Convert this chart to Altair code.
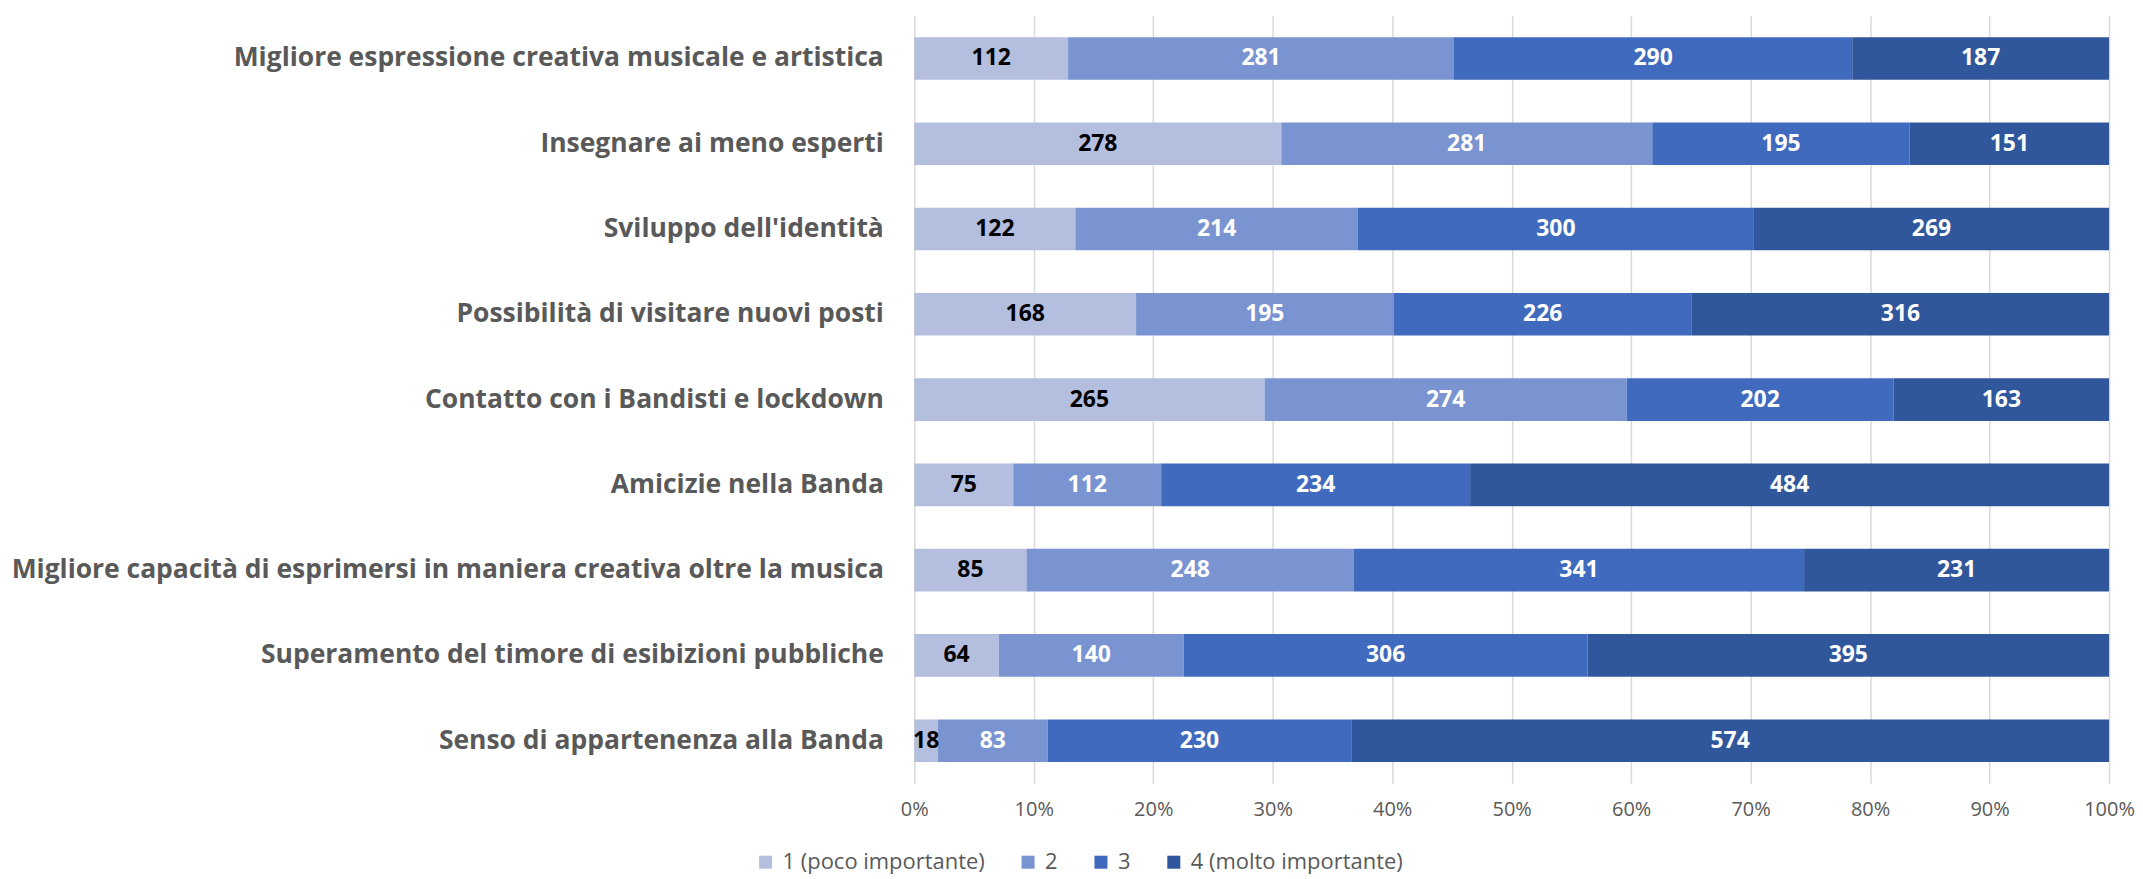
import altair as alt
import pandas as pd

categories = [
    "Migliore espressione creativa musicale e artistica",
    "Insegnare ai meno esperti",
    "Sviluppo dell'identità",
    "Possibilità di visitare nuovi posti",
    "Contatto con i Bandisti e lockdown",
    "Amicizie nella Banda",
    "Migliore capacità di esprimersi in maniera creativa oltre la musica",
    "Superamento del timore di esibizioni pubbliche",
    "Senso di appartenenza alla Banda",
]
series = ["1 (poco importante)", "2", "3", "4 (molto importante)"]
v1 = [112, 278, 122, 168, 265, 75, 85, 64, 18]
v2 = [281, 281, 214, 195, 274, 112, 248, 140, 83]
v3 = [290, 195, 300, 226, 202, 234, 341, 306, 230]
v4 = [187, 151, 269, 316, 163, 484, 231, 395, 574]
colors = ["#B4BFE0", "#7A93D1", "#3F6ABD", "#30569B"]

rows = []
for i, c in enumerate(categories):
    for j, (s, vals) in enumerate(zip(series, [v1, v2, v3, v4])):
        rows.append({"cat": c, "series": s, "order": j, "value": vals[i]})
df = pd.DataFrame(rows)

FONT = "Open Sans"
GRAY = "#595959"

base = alt.Chart(df).transform_stack(
    stack="value", groupby=["cat"], as_=["x0", "x1"], offset="normalize",
    sort=[alt.SortField("order", order="ascending")]
).transform_calculate(mid="(datum.x0 + datum.x1) / 2")

y_enc = alt.Y("cat:N", sort=categories, title=None,
              scale=alt.Scale(paddingInner=0.5, paddingOuter=0.25),
              axis=alt.Axis(labelFontSize=26.5, labelFontWeight="bold", labelColor=GRAY,
                            labelFont=FONT, ticks=False, domain=False, labelPadding=31,
                            labelLimit=2000))

bars = base.mark_bar().encode(
    x=alt.X("x0:Q", title=None,
            scale=alt.Scale(domain=[0, 1]),
            axis=alt.Axis(format="%", values=[i / 10 for i in range(11)],
                          labelFontSize=20, labelColor=GRAY, labelFont=FONT,
                          labelFlush=False,
                          grid=True, gridColor="#D9D9D9", gridWidth=1.5,
                          ticks=False, domain=False, labelPadding=16)),
    x2="x1:Q",
    y=y_enc,
    color=alt.Color("series:N", sort=series,
                    scale=alt.Scale(domain=series, range=colors),
                    legend=alt.Legend(title=None, orient="none", direction="horizontal",
                                      legendX=-160, legendY=837,
                                      labelFontSize=22, labelColor=GRAY, labelFont=FONT,
                                      labelLimit=1000,
                                      symbolType="square", symbolSize=170,
                                      symbolStrokeWidth=0, columnPadding=32,
                                      labelOffset=6)),
)

labels = base.mark_text(fontSize=23, fontWeight="bold", font=FONT).encode(
    x="mid:Q",
    y=alt.Y("cat:N", sort=categories),
    text=alt.Text("value:Q"),
    color=alt.condition("datum.order == 0", alt.value("#000000"), alt.value("#FFFFFF")),
)

chart = alt.layer(bars, labels).properties(
    width=1197, height=769, padding={"left": 2, "top": 7, "right": 0, "bottom": 5}
).configure_view(stroke=None)

chart.save("out.html", embed_options={"renderer": "svg", "actions": False})
